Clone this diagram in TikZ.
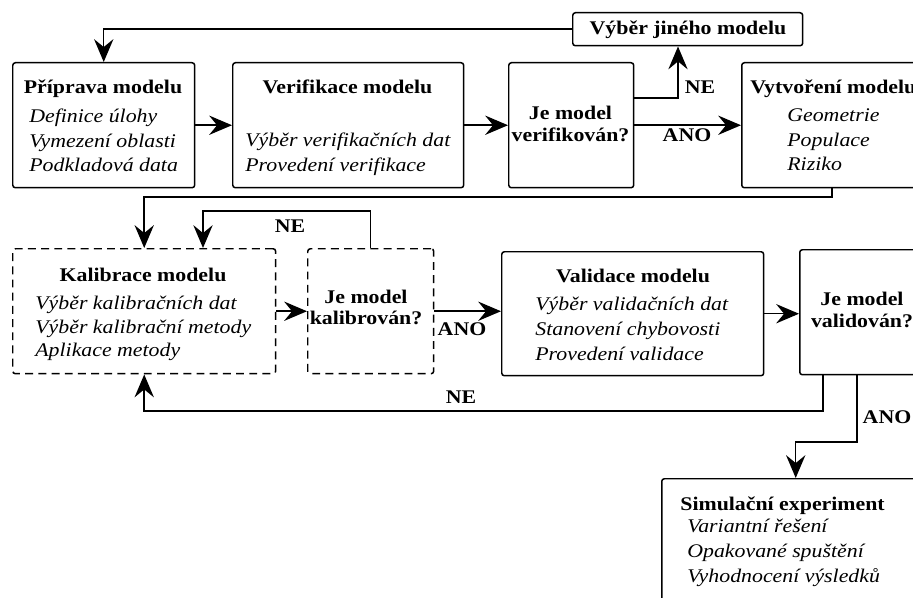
\documentclass[tikz,border=0pt]{standalone}
\usepackage{fontspec}
\setmainfont[FakeStretch=1.13]{Liberation Serif}
\usetikzlibrary{arrows.meta,calc}
\tikzset{
  box/.style={draw,line width=0.85pt,rounded corners=1.5pt,anchor=north west,inner sep=0pt},
  dbox/.style={box,dash pattern=on 4.5pt off 3pt},
  title/.style={anchor=base,inner sep=0pt,font=\fontsize{11}{13.6}\selectfont\bfseries},
  item/.style={anchor=base west,inner sep=0pt,font=\fontsize{11}{13.6}\selectfont\itshape},
  lbl/.style={anchor=base,inner sep=0pt,font=\fontsize{11}{13.6}\selectfont\bfseries},
  arr/.style={-{Stealth[length=13pt,width=11pt,inset=4.5pt]},line width=0.85pt}
}
\begin{document}
\begin{tikzpicture}[x=0.02cm,y=-0.02cm]
  \useasboundingbox (0,0) rectangle (913,598);
  \clip (0,0) rectangle (913,598);
  \node[box,minimum width=3.64cm,minimum height=2.5cm] (prip) at (12,62) {};
  \node[box,minimum width=4.62cm,minimum height=2.5cm] (verif) at (232,62) {};
  \node[box,minimum width=2.5cm,minimum height=2.5cm] (jever) at (508,62) {};
  \node[box,minimum width=4.6cm,minimum height=0.66cm] (jiny) at (572,12) {};
  \node[box,minimum width=3.9cm,minimum height=2.5cm] (vytv) at (741,62) {};
  \node[dbox,minimum width=5.26cm,minimum height=2.5cm] (kalib) at (12,248) {};
  \node[dbox,minimum width=2.52cm,minimum height=2.5cm] (kalibr) at (307,248) {};
  \node[box,minimum width=5.24cm,minimum height=2.48cm] (valid) at (501,251) {};
  \node[box,minimum width=2.8cm,minimum height=2.5cm] (valdov) at (799,249) {};
  \node[box,minimum width=5.36cm,minimum height=3cm] (sim) at (661,478) {};

  \node[title] (prip-t) at (103,94) {Příprava modelu};
  \foreach \s [count=\i] in {Definice úlohy,Vymezení oblasti,Podkladová data}
    \node[item] (prip-\i) at (29,98.5+24.5*\i) {\s};
  \node[title] (verif-t) at (347.5,94) {Verifikace modelu};
  \foreach \s [count=\i] in {Výběr verifikačních dat,Provedení verifikace}
    \node[item] (verif-\i) at (245,122.5+24.5*\i) {\s};
  \node[title] (jever-a) at (570.5,120) {Je model};
  \node[title] (jever-b) at (570.5,142) {verifikován?};
  \node[title] (jiny-t) at (688,35) {Výběr jiného modelu};
  \node[title,anchor=base west] (vytv-t) at (750,94) {Vytvoření modelu};
  \foreach \s [count=\i] in {Geometrie,Populace,Riziko}
    \node[item] (vytv-\i) at (787,97.5+24.5*\i) {\s};
  \node[title] (kalib-t) at (143,281) {Kalibrace modelu};
  \foreach \s [count=\i] in {Výběr kalibračních dat,Výběr kalibrační metody,Aplikace metody}
    \node[item] (kalib-\i) at (35,286+23.5*\i) {\s};
  \node[title] (kalibr-a) at (366,303) {Je model};
  \node[title] (kalibr-b) at (366,324) {kalibrován?};
  \node[title] (valid-t) at (633,282) {Validace modelu};
  \foreach \s [count=\i] in {Výběr validačních dat,Stanovení chybovosti,Provedení validace}
    \node[item] (valid-\i) at (535,285+25*\i) {\s};
  \node[title] (valdov-a) at (862,305) {Je model};
  \node[title] (valdov-b) at (862,327) {validován?};
  \node[title,anchor=base west] (sim-t) at (680,510) {Simulační experiment};
  \foreach \s [count=\i] in {Variantní řešení,Opakované spuštění,Vyhodnocení výsledků}
    \node[item] (sim-\i) at (687,507+25*\i) {\s};

  \draw[arr] (jiny.west) -| (prip.north);
  \draw[arr] (prip.east) -- (verif.west);
  \draw[arr] (verif.east) -- (jever.west);
  \coordinate (ne1) at (678,98);
  \draw[arr] (ne1 -| jever.east) -- (ne1) -- (ne1 |- jiny.south);
  \draw[arr] (jever.east) -- (vytv.west);
  \coordinate (k0) at (832,197);
  \draw[arr] (k0 |- vytv.south) -- (k0) -| (kalib.north);
  \coordinate (k1) at (203,211);
  \draw[arr] (kalibr.north) |- (k1) -- (k1 |- kalib.north);
  \draw[arr] (kalib.east) -- (kalibr.west);
  \draw[arr] (kalibr.east) -- (kalibr.east -| valid.west);
  \draw[arr] (valid.east) -- (valid.east -| valdov.west);
  \coordinate (n2) at (823,411);
  \draw[arr] (n2 |- valdov.south) -- (n2) -| (kalib.south);
  \coordinate (a2) at (857,442);
  \draw[arr] (a2 |- valdov.south) -- (a2) -| (sim.north);

  \node[lbl] (ne-a) at (700,94) {NE};
  \node[lbl] (ano-a) at (687,142) {ANO};
  \node[lbl] (ne-b) at (290,232) {NE};
  \node[lbl] (ano-b) at (462,335) {ANO};
  \node[lbl] (ne-c) at (461,403) {NE};
  \node[lbl] (ano-c) at (887,423) {ANO};
\end{tikzpicture}
\end{document}
